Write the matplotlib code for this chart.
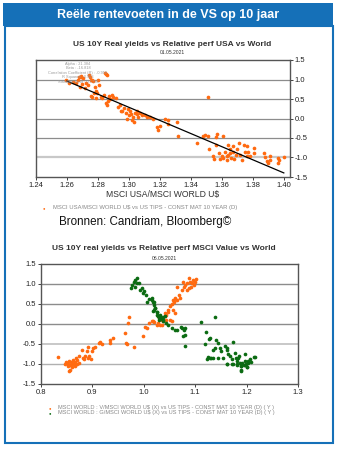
import matplotlib
matplotlib.use('Agg')
import matplotlib.pyplot as plt
from matplotlib.patches import Rectangle
from matplotlib.ticker import FormatStrFormatter

plt.rcParams['font.family'] = ['Liberation Sans', 'DejaVu Sans']

W, H = 338, 449

# top chart: MSCI USA / MSCI World vs US 10Y real yield
usa_x = [1.2593, 1.2614, 1.2636, 1.2657, 1.2670, 1.2678, 1.2685, 1.2690, 1.2700, 1.2706,
         1.2715, 1.2720, 1.2736, 1.2740, 1.2749, 1.2753, 1.2758, 1.2760, 1.2770, 1.2775,
         1.2781, 1.2785, 1.2790, 1.2796, 1.2800, 1.2807, 1.2843, 1.2856, 1.2818, 1.2828,
         1.2839, 1.2850, 1.2860, 1.2865, 1.2870, 1.2880, 1.2893, 1.2900, 1.2914, 1.2929,
         1.2942, 1.2946, 1.2957, 1.2967, 1.2978, 1.2985, 1.2993, 1.3000, 1.3006, 1.3015,
         1.3021, 1.3027, 1.3030, 1.3036, 1.3050, 1.3053, 1.3057, 1.3070, 1.3085, 1.3107,
         1.3117, 1.3139, 1.3156, 1.3180, 1.3190, 1.3200, 1.3230, 1.3250, 1.3252, 1.3310,
         1.3320, 1.3440, 1.3480, 1.3490, 1.3510, 1.3510, 1.3520, 1.3540, 1.3550, 1.3560,
         1.3570, 1.3560, 1.3580, 1.3590, 1.3600, 1.3610, 1.3610, 1.3620, 1.3630, 1.3630,
         1.3640, 1.3640, 1.3650, 1.3650, 1.3660, 1.3670, 1.3670, 1.3680, 1.3690, 1.3700,
         1.3710, 1.3720, 1.3730, 1.3740, 1.3750, 1.3760, 1.3760, 1.3770, 1.3780, 1.3810,
         1.3810, 1.3870, 1.3880, 1.3890, 1.3900, 1.3910, 1.3910, 1.3960, 1.3960, 1.3970,
         1.4000, 1.2689, 1.2760, 1.2850]
usa_y = [0.99, 0.92, 0.94, 0.92, 0.99, 1.07, 0.82, 1.09, 0.88, 1.03,
         0.77, 0.92, 0.86, 1.12, 1.07, 0.58, 0.99, 0.56, 0.97, 0.65,
         0.82, 0.71, 0.52, 0.66, 1.00, 0.86, 1.16, 1.12, 0.54, 0.52,
         0.60, 0.39, 0.35, 0.46, 0.58, 0.49, 0.60, 0.56, 0.52, 0.30,
         0.35, 0.18, 0.20, 0.26, 0.13, 0.00, 0.24, 0.09, 0.18, 0.12,
         -0.04, 0.05, -0.08, 0.15, 0.18, 0.12, 0.05, 0.15, 0.09, 0.09,
         0.03, 0.05, -0.02, -0.21, -0.29, -0.18, 0.00, -0.04, -0.14, -0.10,
         -0.45, -0.63, -0.44, -0.42, -0.44, 0.54, -0.78, -0.95, -1.03, -0.48,
         -0.40, -0.69, -0.89, -1.03, -0.97, -1.02, -0.46, -0.85, -0.97, -1.06,
         -0.68, -0.93, -0.78, -0.89, -1.02, -0.70, -0.85, -1.03, -0.93, -0.79,
         -0.63, -0.93, -1.06, -0.68, -0.85, -0.70, -0.95, -0.85, -0.97, -0.76,
         -0.89, -0.89, -1.00, -1.09, -1.14, -0.95, -1.06, -1.02, -1.14, -1.06,
         -1.00, 1.07, 0.99, 1.14]

# regression stats shown on the chart
alpha = 22.15
beta = -16.818
fit_x = [1.26, 1.40]
stats = ['Alpha : 21.384', 'Beta : -16.818', 'Correlation Coefficient (R) : -0.950',
         'R Squared : 0.903', 'Standard Error : 0.1728']

# bottom chart: Value / Growth vs World against US 10Y real yield
value_x = [0.834, 0.847, 0.850, 0.853, 0.855, 0.856, 0.858, 0.860, 0.861, 0.863,
           0.864, 0.866, 0.868, 0.871, 0.873, 0.874, 0.879, 0.881, 0.884, 0.886,
           0.889, 0.891, 0.892, 0.894, 0.897, 0.899, 0.902, 0.905, 0.912, 0.915,
           0.918, 0.934, 0.935, 0.941, 0.963, 0.965, 0.968, 0.970, 0.972, 0.981,
           0.998, 1.002, 1.006, 1.011, 1.015, 1.019, 1.028, 1.032, 1.038, 1.041,
           1.044, 1.048, 1.051, 1.054, 1.051, 1.054, 1.057, 1.059, 1.061, 1.065,
           1.068, 1.071, 1.074, 1.076, 1.078, 1.080, 1.084, 1.087, 1.090, 1.092,
           1.093, 1.095, 1.097, 1.100, 1.102, 1.087, 1.084, 1.057, 1.061, 1.041,
           1.035, 1.028, 1.044, 1.025, 1.018, 1.035, 1.064, 1.058, 1.048, 0.855,
           0.852, 0.857, 0.859, 0.862, 0.849, 0.866, 0.870]
value_y = [-0.82, -1.01, -0.97, -1.05, -0.93, -1.16, -1.02, -0.97, -1.07, -0.91,
           -1.01, -0.94, -0.86, -0.91, -0.80, -0.97, -0.64, -0.86, -0.88, -0.80,
           -0.68, -0.86, -0.58, -0.79, -0.88, -0.68, -0.61, -0.58, -0.47, -0.45,
           -0.50, -0.39, -0.47, -0.36, -0.22, -0.47, -0.50, 0.03, 0.17, -0.58,
           -0.29, -0.07, -0.11, 0.02, 0.07, 0.06, 0.02, -0.02, 0.07, 0.19,
           0.23, 0.31, 0.11, 0.07, 0.44, 0.50, 0.60, 0.56, 0.64, 0.60,
           0.73, 0.64, 0.85, 1.06, 0.93, 0.97, 1.02, 1.14, 1.06, 0.93,
           1.02, 1.10, 0.97, 1.06, 1.12, 0.89, 0.85, 0.36, 0.27, 0.27,
           0.11, 0.19, 0.11, -0.02, 0.07, -0.02, 0.93, 0.58, 0.36, -1.18,
           -0.99, -1.03, -0.95, -1.00, -0.96, -1.04, -0.99]

growth_x = [0.980, 0.983, 0.986, 0.978, 0.976, 0.983, 0.987, 0.991, 0.993, 0.996,
            0.999, 1.000, 1.004, 1.006, 1.011, 1.015, 1.018, 1.020, 1.019, 1.022,
            1.025, 1.026, 1.028, 1.030, 1.031, 1.035, 1.037, 1.038, 1.041, 1.044,
            1.048, 1.054, 1.061, 1.074, 1.076, 1.080, 1.080, 1.112, 1.138, 1.121,
            1.119, 1.127, 1.125, 1.130, 1.135, 1.141, 1.145, 1.148, 1.151, 1.154,
            1.158, 1.161, 1.164, 1.168, 1.174, 1.177, 1.179, 1.181, 1.184, 1.187,
            1.189, 1.190, 1.192, 1.194, 1.197, 1.199, 1.201, 1.203, 1.206, 1.209,
            1.216, 1.161, 1.174, 1.171, 1.182, 1.015, 1.020, 1.022, 1.018, 1.025,
            1.032, 1.035, 1.038, 1.030, 1.064, 1.072, 1.078, 1.080, 1.129, 1.138,
            1.162, 1.185, 1.196, 1.202, 1.215, 1.123, 1.129, 1.135, 1.145, 1.171,
            1.181, 1.190, 1.196, 1.200, 1.190, 1.162]
growth_y = [1.06, 1.10, 1.14, 0.98, 0.89, 0.93, 1.03, 1.02, 0.85, 0.89,
            0.77, 0.83, 0.73, 0.56, 0.62, 0.60, 0.54, 0.48, 0.36, 0.40,
            0.31, 0.23, 0.19, 0.15, 0.23, 0.12, 0.17, 0.07, 0.21, 0.02,
            -0.02, -0.10, -0.14, -0.10, -0.31, -0.10, -0.55, 0.04, 0.17, -0.21,
            -0.51, -0.37, -0.82, -0.84, -0.64, -0.39, -0.47, -0.60, -0.68, -0.84,
            -0.55, -0.64, -0.76, -0.80, -0.45, -0.72, -0.84, -0.93, -0.84, -0.98,
            -1.05, -1.17, -0.97, -1.03, -0.93, -1.01, -1.07, -0.98, -0.88, -0.95,
            -0.82, -1.01, -1.01, -0.88, -1.03, 0.64, 0.56, 0.40, 0.33, 0.31,
            0.19, 0.15, 0.11, 0.11, -0.14, -0.07, -0.16, -0.28, -0.36, -0.61,
            -0.61, -0.80, -0.76, -0.93, -0.82, -0.88, -0.84, -0.86, -0.86, -1.01,
            -1.01, -1.05, -1.03, -1.07, -1.16, -0.99]

blue = '#1570b8'
orange = '#ff6a10'
green = '#0b6b12'


def fx(x):
    return x / W


def fy(y):
    return 1 - y / H


fig = plt.figure(figsize=(W / 100, H / 100), dpi=100)

# header bar and frame
fig.patches.append(Rectangle((fx(3), fy(26)), fx(330), 23 / H, transform=fig.transFigure,
                             facecolor=blue, edgecolor='none'))
fig.patches.append(Rectangle((fx(4.5), fy(443)), fx(328), 417 / H, transform=fig.transFigure,
                             facecolor='none', edgecolor=blue, linewidth=1.5))
fig.text(fx(168), fy(15), 'Reële rentevoeten in de VS op 10 jaar', color='white',
         fontsize=9, fontweight='bold', ha='center', va='center')

# ---- top chart
ax1 = fig.add_axes([fx(36), fy(177), 254 / W, 117 / H])
ax1.scatter(usa_x, usa_y, s=7, color=orange, marker='o', linewidths=0, zorder=3)
ax1.plot(fit_x, [alpha + beta * v for v in fit_x], color='black', linewidth=0.9, zorder=4)
ax1.set_xlim(1.24, 1.404)
ax1.set_ylim(-1.5, 1.5)
ax1.set_xticks([1.24, 1.26, 1.28, 1.30, 1.32, 1.34, 1.36, 1.38, 1.40])
ax1.set_yticks([-1.5, -1.0, -0.5, 0.0, 0.5, 1.0, 1.5])
ax1.xaxis.set_major_formatter(FormatStrFormatter('%.2f'))
ax1.yaxis.set_major_formatter(FormatStrFormatter('%.1f'))
ax1.yaxis.tick_right()
ax1.tick_params(labelsize=5.5, length=2, width=0.6, pad=1.5, colors='#222222')
for g, c, lw in [(1.0, '#8c8c8c', 0.9), (0.5, '#8c8c8c', 0.9), (0.0, '#8c8c8c', 0.9),
                 (-0.5, '#8c8c8c', 0.9), (-1.0, '#c8c8c8', 1.6)]:
    ax1.axhline(g, color=c, linewidth=lw, zorder=1)
for s in ax1.spines.values():
    s.set_color('#555555')
    s.set_linewidth(1.0)
ax1.set_xlabel('MSCI USA/MSCI WORLD U$', fontsize=6.2, color='#333333', labelpad=0.5)

# regression stats, tiny grey text
for i, t in enumerate(stats):
    fig.text(fx(78), fy(64 + i * 4.4), t, fontsize=2.8, color='#999999', ha='center', va='center')

fig.text(fx(172), fy(44), 'US 10Y Real yields vs Relative perf USA vs World', fontsize=6.0,
         fontweight='bold', color='#333333', ha='center', va='center')
fig.text(fx(172), fy(53), '01.05.2021', fontsize=3.6, color='#333333', ha='center', va='center')

fig.text(fx(44), fy(208.5), '\u25cf', fontsize=3, color=orange, ha='center', va='center')
fig.text(fx(53), fy(208), 'MSCI USA/MSCI WORLD U$ vs US TIPS - CONST MAT 10 YEAR (D)',
         fontsize=4.2, color='#888888', ha='left', va='center')
fig.text(fx(59), fy(222), 'Bronnen: Candriam, Bloomberg\u00a9', fontsize=8.4, color='#111111',
         ha='left', va='center')

# ---- bottom chart
ax2 = fig.add_axes([fx(41), fy(384), 257 / W, 120 / H])
ax2.scatter(value_x, value_y, s=7, color=orange, marker='o', linewidths=0, zorder=3)
ax2.scatter(growth_x, growth_y, s=7, color=green, marker='o', linewidths=0, zorder=3)
ax2.set_xlim(0.8, 1.3)
ax2.set_ylim(-1.5, 1.5)
ax2.set_xticks([0.8, 0.9, 1.0, 1.1, 1.2, 1.3])
ax2.set_yticks([-1.5, -1.0, -0.5, 0.0, 0.5, 1.0, 1.5])
ax2.xaxis.set_major_formatter(FormatStrFormatter('%.1f'))
ax2.yaxis.set_major_formatter(FormatStrFormatter('%.1f'))
ax2.tick_params(labelsize=5.5, length=2, width=0.6, pad=1.5, colors='#222222')
for g, c, lw in [(1.0, '#8c8c8c', 1.0), (0.5, '#8c8c8c', 1.0), (0.0, '#8c8c8c', 1.0),
                 (-0.5, '#c8c8c8', 1.4), (-1.0, '#b0b0b0', 1.0)]:
    ax2.axhline(g, color=c, linewidth=lw, zorder=1)
for s in ax2.spines.values():
    s.set_color('#555555')
    s.set_linewidth(1.0)

fig.text(fx(164), fy(249), 'US 10Y real yields vs Relative perf MSCI Value vs World', fontsize=6.0,
         fontweight='bold', color='#333333', ha='center', va='center')
fig.text(fx(164), fy(258), '06.05.2021', fontsize=3.6, color='#333333', ha='center', va='center')

fig.text(fx(50), fy(408.5), '\u25cf', fontsize=3, color=orange, ha='center', va='center')
fig.text(fx(58), fy(407.5), 'MSCI WORLD : V/MSCI WORLD U$ (X) vs US TIPS - CONST MAT 10 YEAR (D) ( Y )',
         fontsize=4.1, color='#888888', ha='left', va='center')
fig.text(fx(50), fy(413.5), '\u25cf', fontsize=3, color=green, ha='center', va='center')
fig.text(fx(58), fy(412.5), 'MSCI WORLD : G/MSCI WORLD U$ (X) vs US TIPS - CONST MAT 10 YEAR (D) ( Y )',
         fontsize=4.1, color='#888888', ha='left', va='center')

fig.savefig('out.png', dpi=100)
